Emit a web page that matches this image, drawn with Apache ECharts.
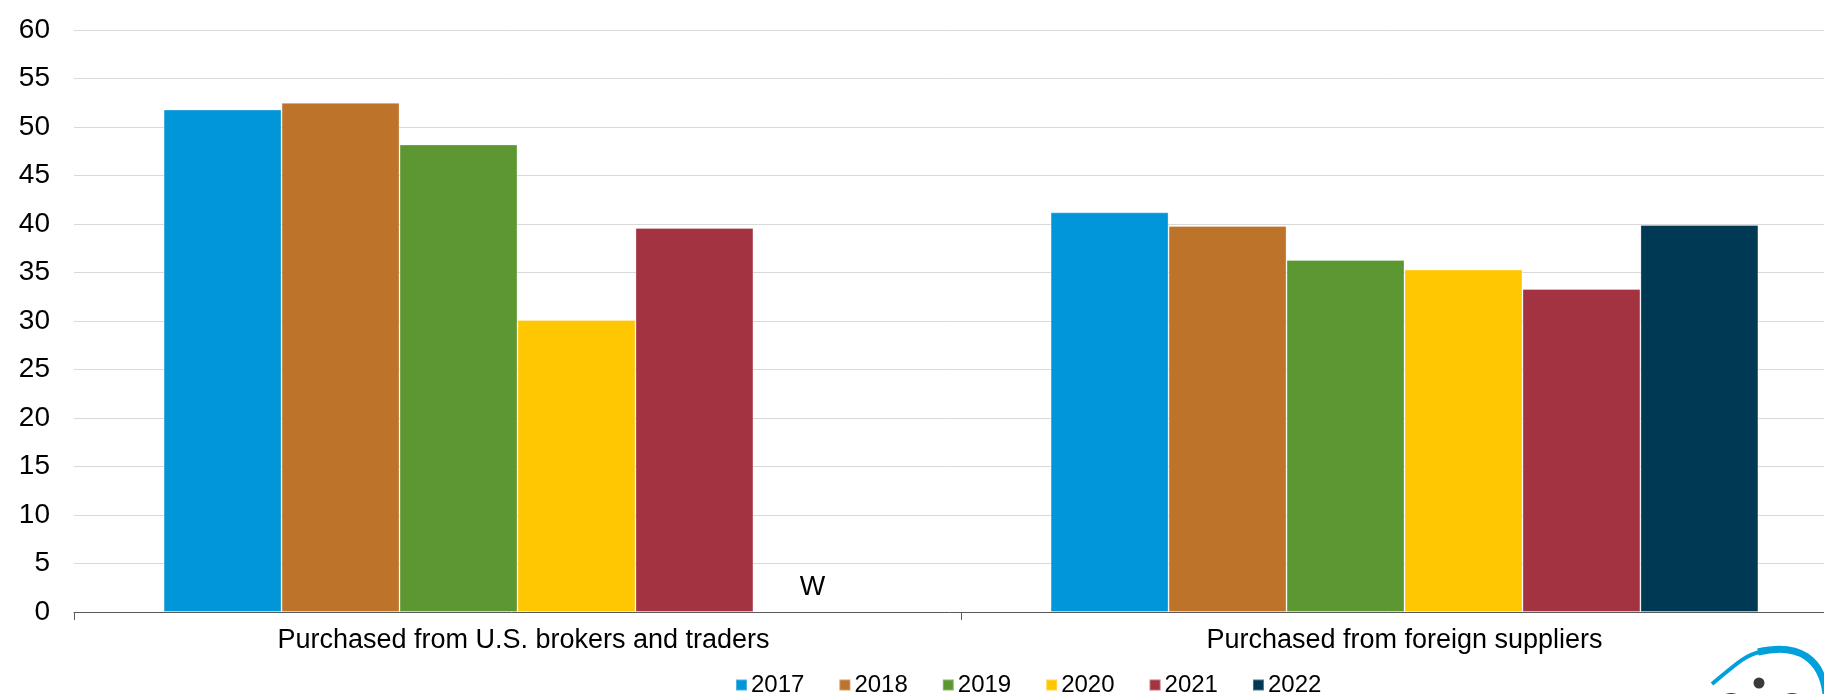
<!DOCTYPE html>
<html>
<head>
<meta charset="utf-8">
<script src="https://cdn.jsdelivr.net/npm/echarts@6/dist/echarts.min.js"></script>
<style>
html,body{margin:0;padding:0;background:#fff;}
#chart{width:1824px;height:694px;}
</style>
</head>
<body>
<div id="chart"></div>
<script>
const categories = ['Purchased from U.S. brokers and traders', 'Purchased from foreign suppliers'];
const years = ['2017', '2018', '2019', '2020', '2021', '2022'];
const colors = ['#0096d7', '#bd732a', '#5d9732', '#ffc702', '#a33340', '#003953'];
const v2017 = [51.8, 41.2];
const v2018 = [52.5, 39.8];
const v2019 = [48.2, 36.3];
const v2020 = [30.1, 35.3];
const v2021 = [39.6, 33.3];
const v2022 = [0, 39.9];
const withheld2022 = [true, false];
const yTicks = {min: 0, max: 60, interval: 5};

const seriesValues = [v2017, v2018, v2019, v2020, v2021, v2022];
const FONT = "'Liberation Sans', Arial, sans-serif";

const series = years.map((y, i) => ({
  name: y,
  type: 'bar',
  barGap: '0%',
  barCategoryGap: '20.2%',
  itemStyle: {color: colors[i], borderColor: 'rgba(255,255,255,0.3)', borderWidth: 1},
  data: seriesValues[i].map((v, j) => {
    if (i === 5 && withheld2022[j]) {
      return {value: v, itemStyle: {borderWidth: 0}, label: {show: true, position: 'top', distance: 11, formatter: 'W', color: '#000', fontSize: 27, fontFamily: FONT}};
    }
    return v;
  })
}));

const chart = echarts.init(document.getElementById('chart'));
chart.setOption({
  animation: false,
  backgroundColor: '#fff',
  color: colors,
  grid: {left: 74, right: -24, top: 30, bottom: 82, containLabel: false, outerBoundsMode: 'none'},
  legend: {
    data: years,
    left: 730, top: 668,
    icon: 'rect', itemWidth: 11, itemHeight: 11, itemGap: 34,
    textStyle: {fontFamily: FONT, fontSize: 24, color: '#000', padding: [0, 0, 0, -1]}
  },
  xAxis: {
    type: 'category',
    data: categories.map((c, i) => i === 0 ? {value: c, textStyle: {padding: [0, 0, 0, 12]}} : c),
    axisLine: {lineStyle: {color: '#595959', width: 1}},
    axisTick: {show: true, alignWithLabel: false, length: 8, lineStyle: {color: '#595959'}},
    axisLabel: {fontFamily: FONT, fontSize: 27, color: '#000', margin: 15}
  },
  yAxis: {
    type: 'value',
    min: yTicks.min, max: yTicks.max, interval: yTicks.interval,
    axisLine: {show: false},
    axisTick: {show: false},
    splitLine: {lineStyle: {color: '#d9d9d9', width: 1}},
    axisLabel: {fontFamily: FONT, fontSize: 28, color: '#000', margin: 24}
  },
  graphic: [
    {type: 'bezierCurve', shape: {x1: 1712, y1: 684, x2: 1760, y2: 652, cpx1: 1735, cpy1: 665, cpx2: 1745, cpy2: 655}, style: {stroke: '#00a0dc', lineWidth: 4, fill: null}},
    {type: 'bezierCurve', shape: {x1: 1758, y1: 652, x2: 1826, y2: 694, cpx1: 1800, cpy1: 642, cpx2: 1822, cpy2: 660}, style: {stroke: '#00a0dc', lineWidth: 7, fill: null}},
    {type: 'circle', shape: {cx: 1759, cy: 683, r: 5.5}, style: {fill: '#3a3a3a'}},
    {type: 'circle', shape: {cx: 1731, cy: 707, r: 14}, style: {fill: '#3a3a3a'}},
    {type: 'circle', shape: {cx: 1792, cy: 707, r: 14}, style: {fill: '#3a3a3a'}}
  ],
  series: series
});
</script>
</body>
</html>
